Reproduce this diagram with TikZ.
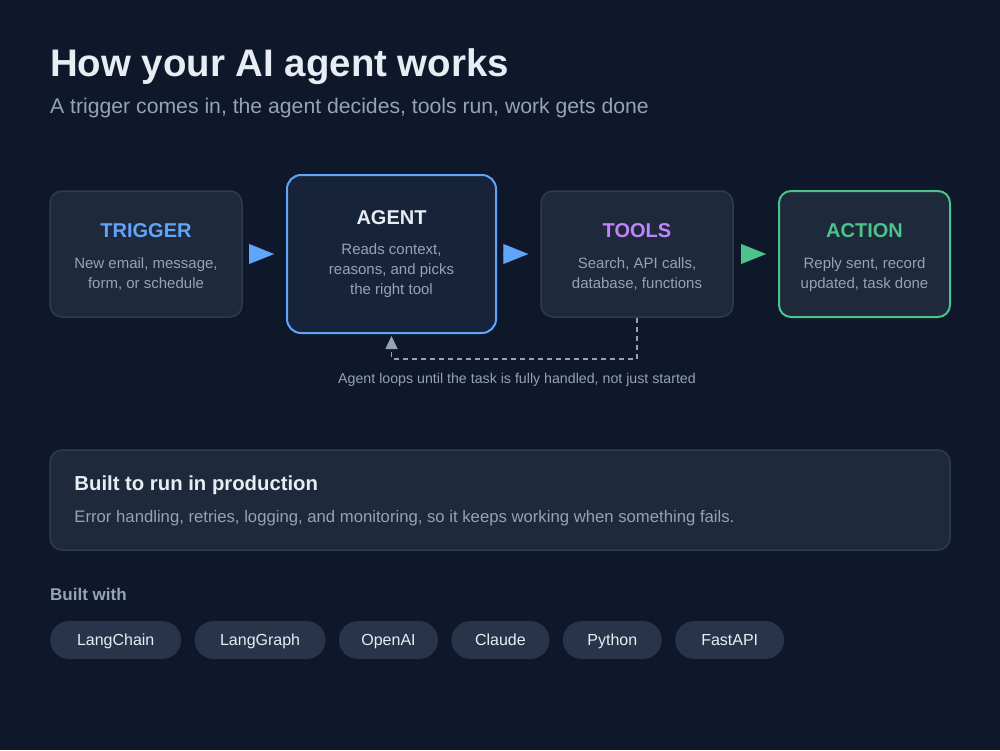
\documentclass[tikz,border=0pt]{standalone}
\usepackage{fontspec}
\setmainfont{Liberation Sans}
\usepackage{tikz}
\usetikzlibrary{arrows.meta}
\usetikzlibrary{calc}
\usetikzlibrary{positioning}
\tikzset{>=latex}
\definecolor{bg}{HTML}{0F172A}
\definecolor{cardfill}{HTML}{1E293B}
\definecolor{cardline}{HTML}{2E3B52}
\definecolor{agentfill}{HTML}{172339}
\definecolor{blueacc}{HTML}{60A5FA}
\definecolor{purpleacc}{HTML}{C084FC}
\definecolor{greenacc}{HTML}{4CC38A}
\definecolor{muted}{HTML}{94A3B8}
\definecolor{bright}{HTML}{E8EDF4}
\definecolor{pillfill}{HTML}{273449}
\tikzstyle{card}=[draw=cardline,fill=cardfill,line width=1.5pt,rounded corners=12pt,minimum width=192pt,minimum height=126pt,inner sep=0pt]
\tikzstyle{stagename}=[anchor=base,inner sep=0pt,font=\fontsize{20}{24}\selectfont\bfseries]
\tikzstyle{stagetext}=[anchor=base,inner sep=0pt,align=center,text=muted,font=\fontsize{15}{20}\selectfont]
\tikzstyle{flow}=[line width=0.1pt,-{Triangle[length=25pt,width=20pt]},shorten <=8pt,shorten >=12pt]
\tikzstyle{loopback}=[muted,line width=1.5pt,dash pattern=on 5pt off 4pt,-{Triangle[length=13pt,width=12pt]},shorten >=2pt]
\tikzstyle{chip}=[fill=pillfill,rounded corners=19pt,minimum height=38pt,inner sep=0pt,text height=14pt,text depth=2.6pt,text=bright,font=\fontsize{16}{19}\selectfont]

\begin{document}
\begin{tikzpicture}[x=1pt,y=-1pt]
      \fill[bg] (0,0) rectangle (1000,750);
      \useasboundingbox (0,0) rectangle (1000,750);

      \node[anchor=base west,inner sep=0pt,text=bright,font=\fontsize{38.4}{44}\selectfont\bfseries] (headline) at (50,76) {How your AI agent works};
      \node[anchor=base west,inner sep=0pt,text=muted,font=\fontsize{21.2}{25}\selectfont] (subline) at (50,113) {A trigger comes in, the agent decides, tools run, work gets done};

      \node[card] (trigger) at (146,254) {};
      \node[card,draw=blueacc,fill=agentfill,line width=2pt,minimum width=209pt,minimum height=158pt,rounded corners=14pt] (agent) at (391.5,254) {};
      \node[card] (tools) at (637,254) {};
      \node[card,draw=greenacc,line width=2pt,minimum width=171pt] (action) at (864.5,254) {};

      \node[stagename,text=blueacc] (triggername) at ($(trigger.north)+(0,47)$) {TRIGGER};
      \node[stagetext] (triggertext) at ($(trigger.north)+(0,98)$) {New email, message,\\form, or schedule};
      \node[stagename,text=bright] (agentname) at ($(agent.north)+(0,50)$) {AGENT};
      \node[stagetext] (agenttext) at ($(agent.north)+(0,120)$) {Reads context,\\reasons, and picks\\the right tool};
      \node[stagename,text=purpleacc] (toolsname) at ($(tools.north)+(0,47)$) {TOOLS};
      \node[stagetext] (toolstext) at ($(tools.north)+(0,98)$) {Search, API calls,\\database, functions};
      \node[stagename,text=greenacc] (actionname) at ($(action.north)+(0,47)$) {ACTION};
      \node[stagetext] (actiontext) at ($(action.north)+(0,98)$) {Reply sent, record\\updated, task done};

      \draw[flow,blueacc] (trigger.east) -- (agent.west);
      \draw[flow,blueacc] (agent.east) -- (tools.west);
      \draw[flow,greenacc,shorten <=9pt] (tools.east) -- (action.west);

      \draw[loopback] (tools.south) -- ++(0,41) -| (agent.south);
      \node[anchor=base,inner sep=0pt,text=muted,font=\fontsize{14.2}{17}\selectfont] (looplabel) at (517,383) {Agent loops until the task is fully handled, not just started};

      \node[card,minimum width=900pt,minimum height=100pt] (prod) at (500,500) {};
      \node[anchor=base west,inner sep=0pt,text=bright,font=\fontsize{20.3}{24}\selectfont\bfseries] (prodname) at ($(prod.west)+(25,-10)$) {Built to run in production};
      \node[anchor=base west,inner sep=0pt,text=muted,font=\fontsize{16.7}{20}\selectfont] (prodtext) at ($(prod.west)+(25,22)$) {Error handling, retries, logging, and monitoring, so it keeps working when something fails.};

      \node[anchor=base west,inner sep=0pt,text=muted,font=\fontsize{17}{20}\selectfont\bfseries] (builtwith) at (50,600) {Built with};
      \node[chip,anchor=west,minimum width=131pt] (langchain) at (50,640) {LangChain};
      \node[chip,right=13pt of langchain,minimum width=131pt] (langgraph) {LangGraph};
      \node[chip,right=13pt of langgraph,minimum width=99pt] (openai) {OpenAI};
      \node[chip,right=13pt of openai,minimum width=98pt] (claude) {Claude};
      \node[chip,right=13pt of claude,minimum width=99pt] (python) {Python};
      \node[chip,right=13pt of python,minimum width=109pt] (fastapi) {FastAPI};
    \end{tikzpicture}
\end{document}
